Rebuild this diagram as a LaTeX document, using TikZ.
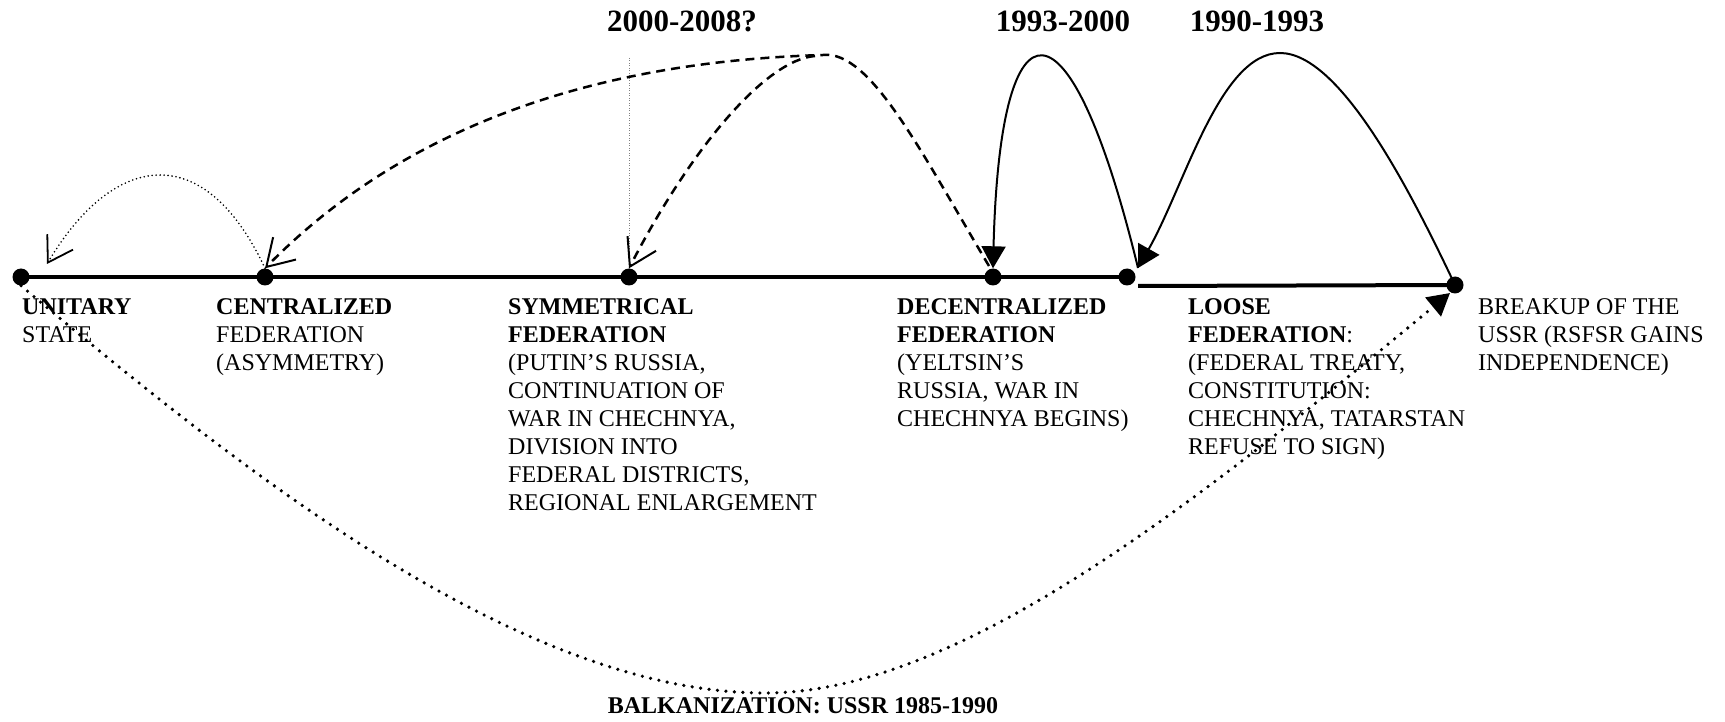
\documentclass[tikz,border=0pt]{standalone}
\usepackage{fontspec}
\setmainfont{Liberation Serif}
\usetikzlibrary{arrows.meta}
\begin{document}
\begin{tikzpicture}[x=1pt,y=-1pt,
  dotnode/.style={circle, fill=black, inner sep=0pt, minimum size=17pt},
  lbl/.style={anchor=north west, align=left, inner sep=0pt, font=\fontsize{24}{28}\selectfont},
  yr/.style={anchor=base, inner sep=0pt, font=\fontsize{31}{36}\selectfont\bfseries},
  axisline/.style={line width=4pt},
  solidarc/.style={line width=2pt, -{Triangle[length=22pt,width=24pt]}},
  openhead/.style={-{Straight Barb[length=26pt,width=32pt,line width=2pt]}},
  dasharc/.style={line width=2.5pt, dash pattern=on 9pt off 6pt, openhead},
  smalldot/.style={line width=1.8pt, line cap=round, dash pattern=on 0pt off 4pt, -{Straight Barb[length=24pt,width=30pt,line width=1.8pt]}},
  baldot/.style={line width=3.6pt, line cap=round, dash pattern=on 0pt off 8.5pt, -{Triangle[length=22pt,width=24pt]}},
  vdot/.style={line width=1pt, gray, dash pattern=on 1pt off 1.5pt}
]
\useasboundingbox (0,0) rectangle (1725,722);

% dots
\node[dotnode] (uni) at (21,277) {};
\node[dotnode] (cen) at (265,277) {};
\node[dotnode] (sym) at (629,277) {};
\node[dotnode] (dec) at (993,277) {};
\node[dotnode] (loo) at (1127,277) {};
\node[dotnode] (brk) at (1455,285) {};

% axis
\draw[axisline] (uni.center) -- (loo.center);
\coordinate (lstart) at (1138,286);
\draw[axisline] (lstart) -- (brk.center);

% labels
\node[lbl] (tuni) at (22,298) {\textbf{UNITARY}\\STATE};
\node[lbl] (tcen) at (216,298) {\textbf{CENTRALIZED}\\FEDERATION\\(ASYMMETRY)};
\node[lbl] (tsym) at (508,298) {\textbf{SYMMETRICAL}\\\textbf{FEDERATION}\\(PUTIN’S RUSSIA,\\CONTINUATION OF\\WAR IN CHECHNYA,\\DIVISION INTO\\FEDERAL DISTRICTS,\\REGIONAL ENLARGEMENT};
\node[lbl] (tdec) at (897,298) {\textbf{DECENTRALIZED}\\\textbf{FEDERATION}\\(YELTSIN’S\\RUSSIA, WAR IN\\CHECHNYA BEGINS)};
\node[lbl] (tloo) at (1188,298) {\textbf{LOOSE}\\\textbf{FEDERATION}:\\(FEDERAL TREATY,\\CONSTITUTION:\\CHECHNYA, TATARSTAN\\REFUSE TO SIGN)};
\node[lbl] (tbrk) at (1478,298) {BREAKUP OF THE\\USSR (RSFSR GAINS\\INDEPENDENCE)};

% period titles
\node[yr] (y1) at (682,32) {2000-2008?};
\node[yr] (y2) at (1063,32) {1993-2000};
\node[yr] (y3) at (1257,32) {1990-1993};
\node[anchor=base, inner sep=0pt, font=\fontsize{24}{28}\selectfont\bfseries] (bal) at (803,713) {BALKANIZATION: USSR 1985-1990};

% vertical gray dotted guide
\coordinate (vtop) at (629,58);
\draw[vdot] (vtop) -- (sym.north);

% solid arcs
\coordinate (looTip) at (1138,268);
\draw[solidarc] (brk.center) .. controls (1410,190) and (1340,53) .. (1280,53)
   .. controls (1220,53) and (1185,185) .. (looTip);
\draw[solidarc] (looTip) .. controls (1070,-12) and (1000,-12) .. (dec.north);

% dashed arcs
\coordinate (decL) at (989,266);
\coordinate (fork) at (815,56);
\draw[dasharc] (decL) .. controls (920,150) and (870,50) .. (823,55)
   .. controls (650,60) and (430,100) .. (cen.north);
\draw[dasharc] (fork) .. controls (765,60) and (690,150) .. (sym.north);

% small dotted arc
\coordinate (uniTip) at (47,264);
\draw[smalldot] (cen.north) .. controls (205,140) and (115,150) .. (uniTip);

% balkanization
\coordinate (brkTip) at (1450,293);
\draw[baldot] (uni.south) .. controls (240,470) and (520,693) .. (765,693)
   .. controls (960,693) and (1200,500) .. (brkTip);
\end{tikzpicture}
\end{document}
